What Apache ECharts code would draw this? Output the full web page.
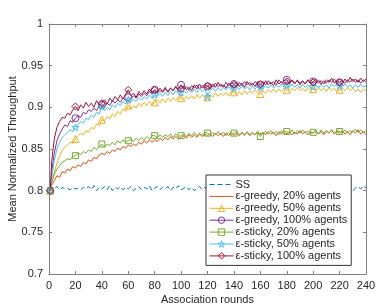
<!DOCTYPE html>
<html><head><meta charset="utf-8">
<script src="https://cdn.jsdelivr.net/npm/echarts@6/dist/echarts.min.js"></script>
<style>html,body{margin:0;padding:0;background:#fff}#c{width:382px;height:308px}</style>
</head><body><div id="c"></div>
<script>
const rounds = [1,2,4,6,8,10,12,14,16,18,20,
22,24,26,28,30,32,34,36,38,40,
42,44,46,48,50,52,54,56,58,60,
62,64,66,68,70,72,74,76,78,80,
82,84,86,88,90,92,94,96,98,100,
102,104,106,108,110,112,114,116,118,120,
122,124,126,128,130,132,134,136,138,140,
142,144,146,148,150,152,154,156,158,160,
162,164,166,168,170,172,174,176,178,180,
182,184,186,188,190,192,194,196,198,200,
202,204,206,208,210,212,214,216,218,220,
222,224,226,228,230,232,234,236,238,240];
const markerRounds = [1,20,40,60,80,100,120,140,160,180,200,220];
const xTicks = [0,20,40,60,80,100,120,140,160,180,200,220,240];
const yTicks = [0.7,0.75,0.8,0.85,0.9,0.95,1];

const ssVals = [0.800,0.804,0.802,0.805,0.801,0.804,0.802,0.803,0.801,0.804,0.802,
0.803,0.801,0.804,0.802,0.805,0.801,0.806,0.800,0.804,0.802,
0.805,0.801,0.806,0.800,0.804,0.802,0.805,0.801,0.804,0.802,
0.805,0.800,0.803,0.805,0.801,0.804,0.802,0.806,0.800,0.803,
0.805,0.801,0.804,0.802,0.805,0.800,0.804,0.802,0.806,0.801,
0.803,0.805,0.801,0.804,0.800,0.803,0.805,0.801,0.804,0.802,
0.804,0.801,0.805,0.802,0.806,0.800,0.803,0.805,0.801,0.804,
0.802,0.805,0.800,0.804,0.802,0.806,0.801,0.803,0.805,0.801,
0.804,0.802,0.805,0.800,0.803,0.805,0.801,0.804,0.802,0.806,
0.801,0.804,0.802,0.805,0.800,0.804,0.802,0.805,0.801,0.803,
0.805,0.801,0.804,0.802,0.806,0.800,0.803,0.805,0.801,0.804,
0.802,0.805,0.801,0.804,0.800,0.803,0.805,0.802,0.806,0.803];

const eg20Vals = [0.800,0.806,0.812,0.818,0.816,0.823,0.821,0.826,0.824,0.829,0.827,
0.831,0.829,0.834,0.832,0.837,0.835,0.840,0.838,0.843,0.845,
0.843,0.847,0.845,0.849,0.847,0.851,0.849,0.853,0.851,0.855,
0.853,0.856,0.854,0.858,0.856,0.860,0.857,0.861,0.858,0.861,
0.859,0.863,0.860,0.864,0.861,0.865,0.862,0.865,0.862,0.864,
0.866,0.863,0.867,0.864,0.867,0.864,0.868,0.865,0.868,0.866,
0.868,0.865,0.869,0.866,0.869,0.865,0.869,0.866,0.870,0.866,
0.869,0.866,0.870,0.867,0.870,0.866,0.869,0.867,0.871,0.867,
0.870,0.867,0.871,0.868,0.870,0.866,0.871,0.868,0.872,0.868,
0.871,0.867,0.870,0.868,0.872,0.868,0.871,0.867,0.871,0.869,
0.872,0.868,0.871,0.867,0.872,0.869,0.873,0.868,0.871,0.869,
0.872,0.868,0.871,0.867,0.872,0.869,0.873,0.868,0.871,0.867];

const eg50Vals = [0.800,0.810,0.822,0.833,0.842,0.848,0.852,0.855,0.858,0.857,0.862,
0.866,0.869,0.867,0.872,0.870,0.876,0.874,0.880,0.878,0.885,
0.884,0.889,0.886,0.892,0.889,0.895,0.892,0.898,0.895,0.902,
0.898,0.902,0.899,0.905,0.901,0.906,0.902,0.907,0.903,0.906,
0.909,0.905,0.910,0.906,0.911,0.907,0.912,0.908,0.913,0.911,
0.909,0.913,0.910,0.914,0.910,0.915,0.911,0.915,0.912,0.912,
0.915,0.912,0.917,0.913,0.917,0.914,0.918,0.914,0.919,0.918,
0.915,0.919,0.915,0.920,0.916,0.920,0.917,0.921,0.917,0.916,
0.920,0.917,0.921,0.918,0.922,0.918,0.922,0.919,0.923,0.921,
0.919,0.923,0.920,0.924,0.920,0.923,0.919,0.924,0.920,0.922,
0.920,0.924,0.920,0.923,0.919,0.924,0.920,0.923,0.919,0.921,
0.923,0.920,0.924,0.920,0.923,0.919,0.922,0.918,0.922,0.920];

const eg100Vals = [0.800,0.822,0.845,0.860,0.868,0.874,0.879,0.877,0.884,0.882,0.887,
0.890,0.888,0.894,0.892,0.897,0.895,0.899,0.896,0.902,0.903,
0.900,0.905,0.902,0.908,0.905,0.909,0.906,0.911,0.908,0.912,
0.910,0.914,0.911,0.916,0.913,0.917,0.914,0.919,0.916,0.921,
0.917,0.920,0.918,0.922,0.919,0.923,0.920,0.925,0.921,0.927,
0.922,0.925,0.921,0.926,0.923,0.927,0.922,0.926,0.923,0.925,
0.928,0.924,0.929,0.925,0.928,0.924,0.930,0.926,0.929,0.928,
0.925,0.930,0.926,0.931,0.927,0.930,0.926,0.931,0.928,0.927,
0.931,0.927,0.932,0.928,0.931,0.927,0.933,0.929,0.932,0.933,
0.929,0.932,0.928,0.933,0.929,0.932,0.928,0.933,0.929,0.931,
0.929,0.933,0.928,0.932,0.929,0.933,0.930,0.934,0.929,0.930,
0.932,0.929,0.933,0.930,0.934,0.930,0.933,0.929,0.933,0.931];

const es20Vals = [0.800,0.810,0.820,0.826,0.830,0.834,0.836,0.838,0.837,0.841,0.842,
0.845,0.843,0.847,0.845,0.849,0.847,0.852,0.849,0.853,0.856,
0.852,0.856,0.854,0.858,0.855,0.860,0.857,0.861,0.858,0.860,
0.862,0.859,0.863,0.860,0.864,0.861,0.865,0.862,0.866,0.866,
0.863,0.867,0.864,0.867,0.865,0.868,0.864,0.868,0.865,0.866,
0.868,0.865,0.869,0.866,0.870,0.866,0.869,0.866,0.870,0.869,
0.867,0.870,0.867,0.871,0.867,0.870,0.866,0.870,0.867,0.869,
0.871,0.867,0.870,0.866,0.871,0.867,0.870,0.867,0.871,0.865,
0.869,0.871,0.868,0.872,0.868,0.871,0.867,0.872,0.868,0.871,
0.869,0.873,0.868,0.872,0.869,0.873,0.869,0.872,0.868,0.870,
0.872,0.868,0.873,0.869,0.872,0.869,0.873,0.869,0.872,0.871,
0.869,0.873,0.869,0.872,0.870,0.874,0.870,0.873,0.870,0.872];

const es50Vals = [0.800,0.815,0.836,0.850,0.858,0.864,0.867,0.870,0.873,0.871,0.876,
0.880,0.883,0.881,0.887,0.885,0.891,0.888,0.894,0.892,0.901,
0.896,0.900,0.897,0.903,0.900,0.905,0.902,0.907,0.904,0.909,
0.906,0.910,0.907,0.912,0.909,0.913,0.910,0.915,0.911,0.915,
0.913,0.917,0.913,0.918,0.914,0.919,0.915,0.920,0.916,0.918,
0.920,0.917,0.921,0.918,0.922,0.918,0.923,0.919,0.922,0.913,
0.920,0.923,0.919,0.924,0.920,0.924,0.921,0.925,0.921,0.923,
0.925,0.921,0.926,0.922,0.925,0.921,0.926,0.922,0.926,0.924,
0.922,0.926,0.923,0.927,0.923,0.927,0.924,0.928,0.924,0.926,
0.924,0.928,0.924,0.927,0.923,0.928,0.924,0.927,0.923,0.925,
0.927,0.923,0.928,0.924,0.927,0.923,0.928,0.925,0.928,0.926,
0.924,0.928,0.924,0.927,0.923,0.927,0.924,0.928,0.924,0.926];

const es100Vals = [0.800,0.835,0.862,0.876,0.883,0.888,0.887,0.893,0.891,0.897,0.901,
0.896,0.903,0.899,0.906,0.901,0.905,0.900,0.908,0.903,0.905,
0.909,0.904,0.911,0.907,0.913,0.909,0.915,0.910,0.916,0.921,
0.914,0.917,0.912,0.919,0.915,0.920,0.916,0.922,0.917,0.921,
0.918,0.923,0.919,0.924,0.918,0.923,0.920,0.925,0.919,0.922,
0.926,0.921,0.924,0.920,0.927,0.922,0.928,0.923,0.926,0.926,
0.922,0.928,0.924,0.930,0.925,0.927,0.923,0.929,0.925,0.927,
0.930,0.925,0.929,0.924,0.931,0.926,0.929,0.925,0.931,0.928,
0.926,0.932,0.927,0.930,0.926,0.933,0.928,0.931,0.927,0.931,
0.928,0.933,0.929,0.932,0.927,0.931,0.928,0.933,0.929,0.930,
0.934,0.929,0.932,0.928,0.933,0.930,0.935,0.929,0.932,0.930,
0.928,0.934,0.930,0.936,0.931,0.934,0.930,0.935,0.931,0.934];

const names = ['SS','ε-greedy, 20% agents','ε-greedy, 50% agents','ε-greedy, 100% agents','ε-sticky, 20% agents','ε-sticky, 50% agents','ε-sticky, 100% agents'];
const colors = ['#0072BD','#D95319','#EDB120','#7E2F8E','#77AC30','#4DBEEE','#A2142F'];
const starPath = 'path://M50,0 L61,35 L98,35 L68,57 L79,91 L50,70 L21,91 L32,57 L2,35 L39,35 Z';
const symbols = ['circle','circle','triangle','circle','rect',starPath,'diamond'];
const hasMarker = [false,false,true,true,true,true,true];
const markerSizes = [0,0,7,7,6,7,7];
const valueSets = [ssVals, eg20Vals, eg50Vals, eg100Vals, es20Vals, es50Vals, es100Vals];

const chart = echarts.init(document.getElementById('c'), null, {renderer:'canvas'});
const txt = '#262626';
const axisCol = '#808080';
const font = 'Liberation Sans, Arial, sans-serif';
const clear = 'rgba(255,255,255,0)';

const series = valueSets.map((vals, k) => ({
  name: names[k],
  type: 'line',
  data: rounds.map((r, i) => [r, vals[i]]),
  symbol: symbols[k],
  showAllSymbol: true,
  symbolSize: (v, p) => markerRounds.indexOf(rounds[p.dataIndex]) >= 0 ? markerSizes[k] : 0,
  lineStyle: {color: colors[k], width: 1, type: k === 0 ? [5, 3] : 'solid'},
  itemStyle: {color: clear, borderColor: hasMarker[k] ? colors[k] : clear, borderWidth: 1},
  emphasis: {disabled: true},
  animation: false,
  z: 2
}));

const mkX = (pos, show) => ({
  type: 'value', position: pos, min: 0, max: 240, interval: 20,
  axisLine: {show: true, onZero: false, lineStyle: {color: axisCol, width: 1}},
  axisTick: {show: true, inside: true, length: 3, lineStyle: {color: axisCol}},
  axisLabel: {show: show, color: txt, fontSize: 11, fontFamily: font, margin: 6},
  splitLine: {show: false},
  name: show ? 'Association rounds' : '', nameLocation: 'middle', nameGap: 20,
  nameMoveOverlap: false,
  nameTextStyle: {color: txt, fontSize: 11, fontFamily: font}
});
const mkY = (pos, show) => ({
  type: 'value', position: pos, min: 0.7, max: 1, interval: 0.05,
  axisLine: {show: true, onZero: false, lineStyle: {color: axisCol, width: 1}},
  axisTick: {show: true, inside: true, length: 3, lineStyle: {color: axisCol}},
  axisLabel: {show: show, color: txt, fontSize: 11, fontFamily: font, margin: 6,
    formatter: v => String(parseFloat(v.toFixed(2)))},
  splitLine: {show: false},
  name: show ? 'Mean Normalized Throughput' : '', nameLocation: 'middle', nameGap: 31,
  nameMoveOverlap: false,
  nameTextStyle: {color: txt, fontSize: 11, fontFamily: font}
});

chart.setOption({
  animation: false,
  backgroundColor: '#fff',
  grid: {left: 49, right: 16, top: 24, bottom: 34, containLabel: false, outerBoundsMode: 'none'},
  xAxis: [mkX('bottom', true), mkX('top', false)],
  yAxis: [mkY('left', true), mkY('right', false)],
  legend: {
    orient: 'vertical', left: 206, top: 175,
    data: names,
    itemWidth: 24, itemHeight: 8, itemGap: 0.9,
    padding: [4, 4, 4, 3],
    borderColor: '#333', borderWidth: 1, backgroundColor: '#fff',
    lineStyle: {width: 1},
    itemStyle: {color: clear, borderWidth: 1},
    textStyle: {color: txt, fontSize: 11, lineHeight: 11, fontFamily: font, padding: [0, 0, 0, -3]},
    selectedMode: false
  },
  series: series
});
</script>
</body></html>
